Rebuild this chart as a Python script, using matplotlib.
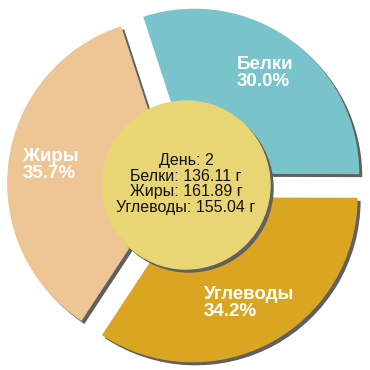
import matplotlib.pyplot as plt

names = ["Белки", "Углеводы", "Жиры"]
grams = [136.11, 155.04, 161.89]
percents = [30.0, 34.2, 35.7]
colors = ["#79c3cb", "#daa520", "#eec594"]
day = 2

fig = plt.figure(figsize=(3.7, 3.7), dpi=100)
ax = fig.add_axes([0, 0, 1, 1])

cx, cy, r = 186, 185, 165
# explode offset is in data units here (not scaled by radius)
explode = [14] * 3

# shadow first, shifted right/down
ax.pie(grams, radius=r, center=(cx + 3, cy - 3), startangle=108,
       counterclock=False, explode=explode, colors=["#606060"] * 3,
       frame=True)
wedges, _ = ax.pie(grams, radius=r, center=(cx, cy), startangle=108,
                   counterclock=False, explode=explode, colors=colors,
                   frame=True)
ax.set_xlim(0, 370)
ax.set_ylim(0, 370)
ax.set_aspect("equal")
ax.axis("off")

ax.add_patch(plt.Circle((cx + 3, cy - 3), 84, color="#606060"))
ax.add_patch(plt.Circle((cx, cy), 84, color="#e8d574"))

label_pos = [(237, 370 - 73), (204, 370 - 303), (23, 370 - 165)]
for (x, y), n, p in zip(label_pos, names, percents):
    ax.text(x, y, f"{n}\n{p:.1f}%", color="white", fontsize=13.5,
            fontweight="bold", family="Liberation Sans", ha="left",
            va="center", linespacing=1.0)

center_text = (f"День: {day}\n"
               f"Белки: {grams[0]:.2f} г\n"
               f"Жиры: {grams[2]:.2f} г\n"
               f"Углеводы: {grams[1]:.2f} г")
ax.text(cx, 370 - 184, center_text, fontsize=11.5, family="Liberation Sans",
        ha="center", va="center", linespacing=1.05, color="#111111")

plt.savefig("out.png", dpi=100)
